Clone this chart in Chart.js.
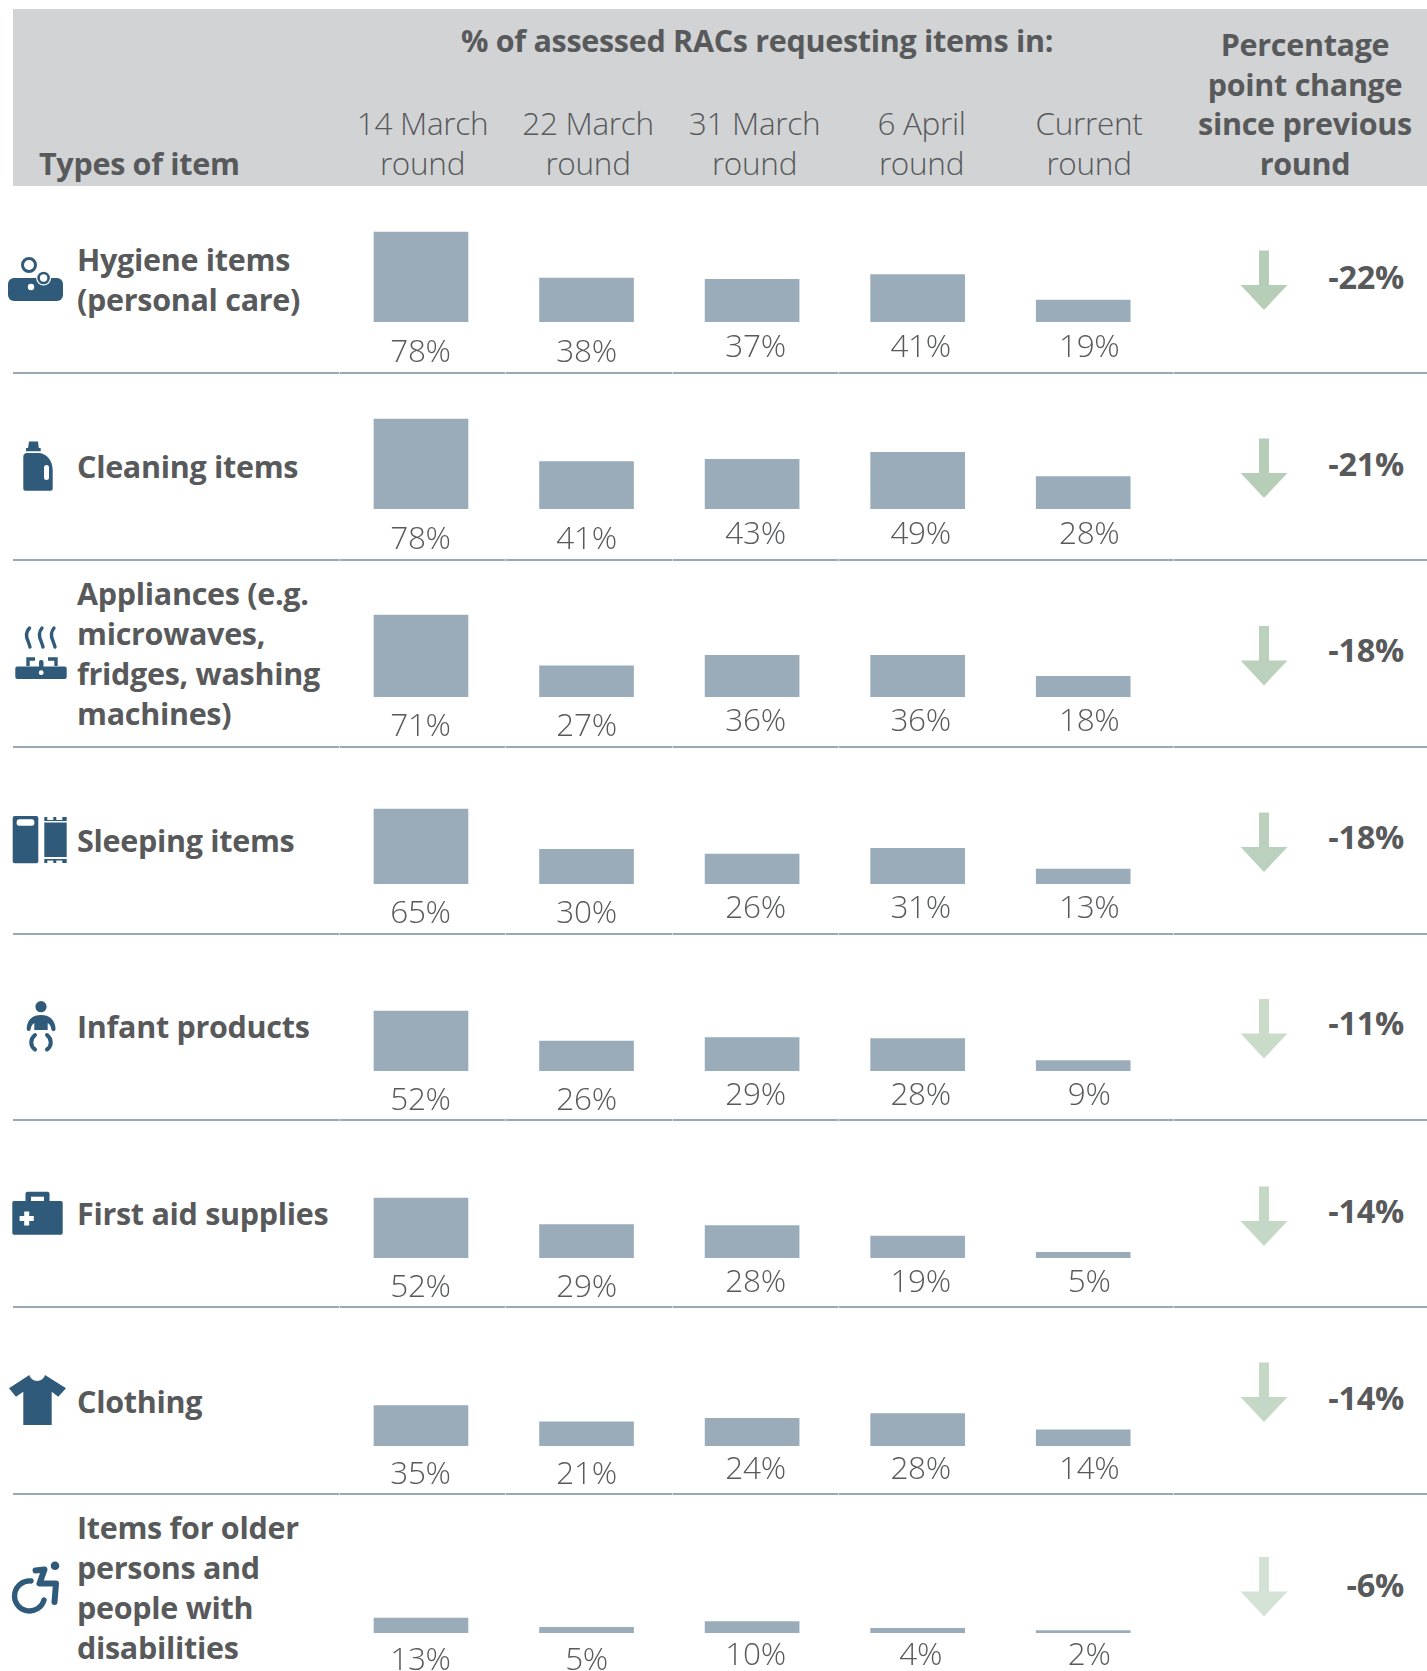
<!DOCTYPE html>
<html>
<head>
<meta charset="utf-8">
<title>Types of items requested by RACs</title>
<script src="https://cdn.jsdelivr.net/npm/chart.js@4"></script>
<style>
html,body{margin:0;padding:0;background:#fff;}
#page{position:relative;width:1427px;height:1671px;overflow:hidden;font-family:"Open Sans",sans-serif;color:#58595b;}
#head{position:absolute;left:13px;top:9px;width:1414px;height:177px;background:#d1d3d4;}
.t{position:absolute;white-space:nowrap;line-height:40px;height:40px;}
.c{transform:translateX(-50%);text-align:center;}
.r{transform:translateX(-100%);font-size:32.5px !important;}
.b{font-weight:700;font-size:30.5px;letter-spacing:-0.3px;}
.l{font-weight:300;font-size:31.5px;letter-spacing:-0.3px;}
.rule{position:absolute;left:13px;width:1414px;height:2.5px;background:#9aa8b4;}
.nick{position:absolute;width:1px;height:2.5px;background:#d5dbe0;}
canvas{position:absolute;}
svg{position:absolute;left:0;top:0;}
</style>
</head>
<body>
<div id="page"><div id="head"></div></div>
<script>
// ---------- data ----------
const rounds = ["14 March round", "22 March round", "31 March round", "6 April round", "Current round"];
const itemTypes = [
  "Hygiene items\n(personal care)",
  "Cleaning items",
  "Appliances (e.g.\nmicrowaves,\nfridges, washing\nmachines)",
  "Sleeping items",
  "Infant products",
  "First aid supplies",
  "Clothing",
  "Items for older\npersons and\npeople with\ndisabilities"
];
const hygiene    = [78, 38, 37, 41, 19];
const cleaning   = [78, 41, 43, 49, 28];
const appliances = [71, 27, 36, 36, 18];
const sleeping   = [65, 30, 26, 31, 13];
const infant     = [52, 26, 29, 28, 9];
const firstAid   = [52, 29, 28, 19, 5];
const clothing   = [35, 21, 24, 28, 14];
const olderDis   = [13, 5, 10, 4, 2];
const pointChange = [-22, -21, -18, -18, -11, -14, -14, -6];
const seriesByRow = [hygiene, cleaning, appliances, sleeping, infant, firstAid, clothing, olderDis];

// ---------- layout and style ----------
const baselines = [322, 509, 697, 884, 1071, 1258, 1446, 1633];
const ruleYs = [372, 559, 746, 933, 1119, 1306, 1493];
const labelAnchor = [375.5, 562.4, 749.3, 936.2, 1123.1, 1310, 1496.9, 1683.5];
const labelLift = [22, 22, 27, 27, 27];
const labelShift = [-0.5, 0, 3.5, 3, 6];
const rowTextCenters = [[259,299],[466],[593,633,673,713],[840],[1026],[1213],[1401],[1527,1567,1607,1647]];
const changeYs = [277, 464, 650, 837, 1023, 1211, 1398, 1585];
const arrowTops = [250.5, 438.5, 626, 812.5, 999, 1186.5, 1362.5, 1557];
const arrowColors = ["#b6cdb8","#b6cdb8","#bcd1bd","#bcd1bd","#cadbca","#c5d7c5","#c5d7c5","#d3e2d5"];
const headCenters = [422.5, 588, 754.5, 921.5, 1089];
const nickXs = [339, 505, 672, 838, 1173];
const BAR = "#9aacba", TEXT = "#58595b", ICON = "#2f5a7a";
const PLOT_LEFT = 338, PLOT_W = 828, PLOT_H = 116, PAD_BOTTOM = 46;

const page = document.getElementById("page");
function text(str, cls, x, yc) {
  const d = document.createElement("div");
  d.className = "t " + cls;
  d.textContent = str;
  d.style.left = x + "px";
  d.style.top = (yc - 20) + "px";
  page.appendChild(d);
}
// header
text("% of assessed RACs requesting items in:", "b c", 757, 40);
text("Types of item", "b", 39, 163);
rounds.forEach((r, i) => {
  const cut = r.lastIndexOf(" ");
  text(r.slice(0, cut), "l c", headCenters[i], 123);
  text(r.slice(cut + 1), "l c", headCenters[i], 163);
});
["Percentage", "point change", "since previous", "round"].forEach((s, i) => text(s, "b c", 1305, [44, 84, 123, 163][i]));
// row text
itemTypes.forEach((s, i) => s.split("\n").forEach((ln, j) => text(ln, "b", 77, rowTextCenters[i][j])));
pointChange.forEach((v, i) => text(v + "%", "b r", 1404, changeYs[i]));
// rules
ruleYs.forEach(y => {
  const d = document.createElement("div");
  d.className = "rule"; d.style.top = (y - 0.5) + "px"; page.appendChild(d);
  nickXs.forEach(x => {
    const n = document.createElement("div");
    n.className = "nick"; n.style.left = x + "px"; n.style.top = (y - 0.5) + "px"; page.appendChild(n);
  });
});

// icons and arrows
const icons = `
<g fill="${ICON}" stroke="none">
 <path d="M14 278H57a6 6 0 0 1 6 6V295a6 6 0 0 1-6 6H14a6 6 0 0 1-6-6V284a6 6 0 0 1 6-6Z"/>
 <circle cx="29" cy="265" r="6.5" fill="none" stroke="${ICON}" stroke-width="3"/>
 <circle cx="43.6" cy="278" r="7.5" fill="#fff"/>
 <circle cx="43.6" cy="278" r="5" fill="#fff" stroke="${ICON}" stroke-width="2.6"/>
 <circle cx="31" cy="287" r="3.2" fill="#fff"/>

 <path d="M29 441.5H38L38.8 448H40.7V451.2H26V448H28Z"/>
 <path d="M27 453H38C47 453 52.7 461 52.7 470V488.7a2 2 0 0 1-2 2H25.3a2 2 0 0 1-2-2V457a4 4 0 0 1 3.7-4Z"/>
 <rect x="44" y="465" width="5" height="15" rx="2.5" fill="#fff"/>

 <g fill="none" stroke="${ICON}" stroke-width="3.4" stroke-linecap="round">
  <path d="M29.5 628C25 633 26 637 28 641C29 644 29.5 645 30 647"/><path d="M42 628C38 633 39 637 41 641C42 644 42.5 645 43 647"/><path d="M54 628C50 633 51 637 53 641C54 644 54.5 645 55 647"/>
  <path d="M28 666V659H35" stroke-linecap="butt"/><path d="M48 659H56V666" stroke-linecap="butt"/>
 </g>
 <rect x="15.3" y="666.5" width="51.4" height="12.5" rx="2"/>
 <rect x="39" y="660" width="4.5" height="8" rx="2"/>
 <circle cx="41.2" cy="672.7" r="2.4" fill="#fff"/>

 <rect x="12.7" y="816" width="25.6" height="47.3" rx="2"/>
 <rect x="16.7" y="819.3" width="17.6" height="6.4" rx="2.5" fill="#fff"/>
 <rect x="44.3" y="822.5" width="22.4" height="34.5"/>
 <path d="M44.3 817h3v3h6v-3h3v3h6v-3h4.4v4h-22.4Z"/>
 <path d="M44.3 859h22.4v4h-4.4v-2.5h-6v2.5h-3v-2.5h-6v2.5h-3Z"/>

 <circle cx="41" cy="1006.7" r="5.6"/>
 <path d="M26.7 1029a2 2 0 0 0 4 0c.4-3 1.8-5 3.6-6V1030H47.7V1023c1.8 1 3.2 3 3.6 6a2 2 0 0 0 4.3 0C55 1020 50 1015 41 1015S27 1020 26.7 1029Z"/>
 <g fill="none" stroke="${ICON}" stroke-width="4" stroke-linecap="round">
  <path d="M35 1035C30 1039 30 1046 35 1049.5"/><path d="M47 1035C52 1039 52 1046 47 1049.5"/>
 </g>

 <path d="M27.5 1191.7H47.5a2 2 0 0 1 2 2V1201H61a1.7 1.7 0 0 1 1.7 1.7V1233a1.7 1.7 0 0 1-1.7 1.7H14a1.7 1.7 0 0 1-1.7-1.7V1202.7A1.7 1.7 0 0 1 14 1201H25.5V1193.7a2 2 0 0 1 2-2Z"/>
 <rect x="31" y="1196.7" width="13" height="4.3" fill="#fff"/>
 <path d="M24.2 1211.5h5v4.5h4.6v5h-4.6v4.5h-5v-4.5h-4.6v-5h4.6Z" fill="#fff"/>

 <path d="M29.3 1375H45L66 1388.3L58.3 1396.7L51.7 1391.7V1425H23.3V1391.7L16 1396.7L9 1388.3Z"/>
 <path d="M29.3 1375a8 7.5 0 0 0 15.7 0Z" fill="#fff"/>

 <circle cx="55" cy="1565.7" r="4.3"/>
 <g fill="none" stroke="${ICON}" stroke-linecap="round" stroke-linejoin="round">
  <path d="M31 1581A15 15 0 1 0 44 1600" stroke-width="5.4"/>
  <path d="M35.5 1570.5L44.5 1569.5L39.5 1583.5H56L54.5 1602" stroke-width="6"/>
 </g>
</g>
${arrowTops.map((t, i) => `<path fill="${arrowColors[i]}" d="M1259 ${t}h10v34.4h18.5L1264 ${t + 59.4}L1240.6 ${t + 34.4}H1259Z"/>`).join("")}`;
const svgWrap = document.createElement("div");
svgWrap.innerHTML = `<svg width="1427" height="1671" viewBox="0 0 1427 1671" xmlns="http://www.w3.org/2000/svg">${icons}</svg>`;
page.appendChild(svgWrap.firstChild);

// ---------- one small chart per row ----------
const rowLabels = {
  id: "rowLabels",
  afterDatasetsDraw(chart, args, opts) {
    const { ctx } = chart;
    const meta = chart.getDatasetMeta(0);
    ctx.save();
    ctx.font = '300 31.5px "Open Sans"';
    ctx.fillStyle = TEXT;
    ctx.textAlign = "center";
    ctx.textBaseline = "middle";
    if ("letterSpacing" in ctx) ctx.letterSpacing = "-0.3px";
    meta.data.forEach((bar, i) => {
      ctx.fillText(chart.data.datasets[0].data[i] + "%", bar.x + labelShift[i], opts.anchor - labelLift[i]);
    });
    ctx.restore();
  }
};
seriesByRow.forEach((series, row) => {
  const cv = document.createElement("canvas");
  const top = baselines[row] - PLOT_H;
  cv.style.left = PLOT_LEFT + "px";
  cv.style.top = top + "px";
  cv.style.width = PLOT_W + "px";
  cv.style.height = (PLOT_H + PAD_BOTTOM) + "px";
  cv.width = PLOT_W; cv.height = PLOT_H + PAD_BOTTOM;
  page.appendChild(cv);
  new Chart(cv, {
    type: "bar",
    data: {
      labels: rounds,
      datasets: [{ label: itemTypes[row].replace(/\n/g, " "), data: series, backgroundColor: BAR, barThickness: 94, borderWidth: 0 }]
    },
    options: {
      responsive: false,
      animation: false,
      layout: { padding: { left: 0.2, right: 0, top: 0, bottom: PAD_BOTTOM } },
      scales: {
        x: { display: false, offset: true },
        y: { display: false, min: 0, max: 100.5 }
      },
      plugins: {
        legend: { display: false },
        tooltip: { enabled: false },
        rowLabels: { anchor: labelAnchor[row] - top }
      }
    },
    plugins: [rowLabels]
  });
});
</script>
</body>
</html>
